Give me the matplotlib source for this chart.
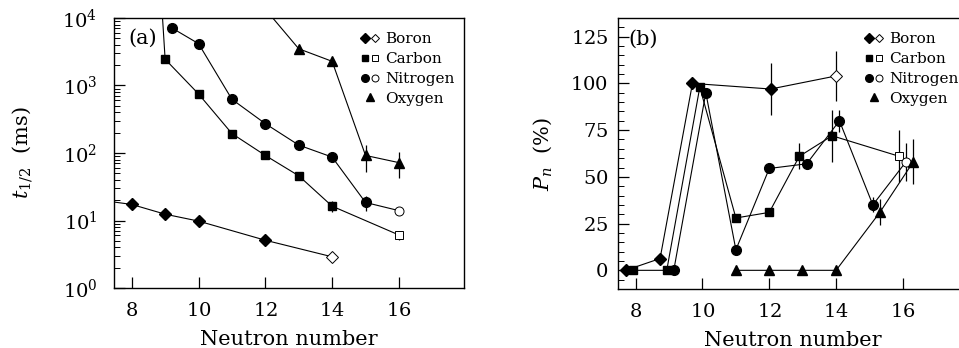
import matplotlib
matplotlib.use("Agg")
import matplotlib.pyplot as plt
from matplotlib.ticker import MultipleLocator, LogLocator, NullFormatter
from matplotlib.legend_handler import HandlerTuple
from matplotlib.lines import Line2D

plt.rcParams['font.family'] = 'DejaVu Serif'
plt.rcParams['mathtext.fontset'] = 'dejavuserif'
plt.rcParams['axes.formatter.use_mathtext'] = True

# (a) half-lives in ms vs neutron number
b_n = [7, 8, 9, 10, 12, 14]
b_t = [20.2, 17.3, 12.4, 9.8, 5.1, 2.9]
b_terr = [0, 0, 0, 0, 0, 0]

c_n = [8, 9, 10, 11, 12, 13, 14, 16]
c_t = [1.8e11, 2450, 750, 194, 92, 46, 16.3, 6.1]
c_terr = [0, 0, 0, 0, 0, 0, 3, 1]

n_n = [9.2, 10, 11, 12, 13, 14, 15, 16]
n_t = [7130, 4170, 624, 272, 131, 87, 18.5, 14]
n_terr = [0, 0, 0, 0, 0, 0, 4.5, 1.5]

o_n = [12, 13, 14, 15, 16]
o_t = [13500, 3500, 2280, 92, 72]
o_terr = [0, 0, 0, 40, 30]

# (b) neutron emission probability in %
b_pn_n = [7.7, 8.73, 9.7, 12.04, 14.0]
b_pn = [0, 6.3, 100, 97, 104]
b_pnerr = [0, 0, 0, 14, 13.5]

c_pn_n = [7.93, 8.93, 9.92, 11.0, 12.0, 12.9, 13.88, 15.89]
c_pn = [0, 0, 98, 28, 31, 61, 72, 61]
c_pnerr = [0, 0, 0, 0, 0, 7, 14, 14]

n_pn_n = [9.14, 10.1, 11.0, 12.0, 13.12, 14.1, 15.1, 16.09]
n_pn = [0, 95, 11, 54.5, 57, 80, 35, 58]
n_pnerr = [0, 0, 0, 0, 0, 6, 4, 10]

o_pn_n = [11.0, 12.0, 12.98, 14.0, 15.31, 16.31]
o_pn = [0, 0, 0, 0, 31, 58]
o_pnerr = [0, 0, 0, 0, 7, 12]

# which point of each series is drawn open (index), None if none
open_a = {'B': 5, 'C': 7, 'N': 7, 'O': None}
open_b = {'B': 4, 'C': 7, 'N': 7, 'O': None}

markers = {'B': 'D', 'C': 's', 'N': 'o', 'O': '^'}
msizes = {'B': 6.5, 'C': 6.0, 'N': 7.0, 'O': 7.5}
names = {'B': 'Boron', 'C': 'Carbon', 'N': 'Nitrogen', 'O': 'Oxygen'}


def draw_series(ax, x, y, err, key, open_idx):
    ax.plot(x, y, '-', color='k', lw=0.8, zorder=2)
    ex = [xi for xi, e in zip(x, err) if e > 0]
    ey = [yi for yi, e in zip(y, err) if e > 0]
    ee = [e for e in err if e > 0]
    if ee:
        ax.errorbar(ex, ey, yerr=ee, fmt='none', ecolor='k', elinewidth=0.9,
                    capsize=0, zorder=2)
    m = markers[key]
    ms = msizes[key]
    for i, (xi, yi) in enumerate(zip(x, y)):
        if i == open_idx:
            ax.plot(xi, yi, m, ms=ms - 0.5, mfc='white', mec='k', mew=0.7, zorder=3)
        else:
            ax.plot(xi, yi, m, ms=ms, mfc='k', mec='k', zorder=3)


def add_legend(ax):
    handles = []
    for key in ['B', 'C', 'N']:
        f = Line2D([], [], ls='none', marker=markers[key], ms=msizes[key] - 1.5,
                   mfc='k', mec='k')
        o = Line2D([], [], ls='none', marker=markers[key], ms=msizes[key] - 2,
                   mfc='white', mec='k', mew=0.7)
        handles.append((f, o))
    handles.append(Line2D([], [], ls='none', marker='^', ms=msizes['O'] - 1.5,
                          mfc='k', mec='k'))
    ax.legend(handles, [names[k] for k in ['B', 'C', 'N', 'O']],
              handler_map={tuple: HandlerTuple(ndivide=None, pad=0.1)},
              loc='upper left', bbox_to_anchor=(0.705, 0.947), frameon=False,
              fontsize=11, handlelength=1.2, handletextpad=0.4,
              labelspacing=0.38, borderaxespad=0, borderpad=0)


def style_axes(ax, ypad):
    for s in ax.spines.values():
        s.set_linewidth(1.0)
    ax.tick_params(which='both', direction='in', top=False, right=False,
                   labelsize=14)
    ax.tick_params(axis='x', pad=10)
    ax.tick_params(axis='y', pad=ypad)
    ax.tick_params(which='major', length=8, width=0.9)
    ax.tick_params(which='minor', length=4, width=0.7)
    ax.xaxis.set_major_locator(MultipleLocator(2))
    ax.set_xlim(7.47, 17.95)
    ax.set_xlabel('Neutron number', fontsize=15, labelpad=7)


fig = plt.figure(figsize=(9.59, 3.48), dpi=100)
ax1 = fig.add_axes([0.1189, 0.1724, 0.365, 0.7759])
ax2 = fig.add_axes([0.6444, 0.1695, 0.365, 0.7788])

draw_series(ax1, b_n, b_t, b_terr, 'B', open_a['B'])
draw_series(ax1, c_n, c_t, c_terr, 'C', open_a['C'])
draw_series(ax1, n_n, n_t, n_terr, 'N', open_a['N'])
draw_series(ax1, o_n, o_t, o_terr, 'O', open_a['O'])
ax1.set_yscale('log')
ax1.set_ylim(1, 1e4)
ax1.yaxis.set_major_locator(LogLocator(base=10, numticks=10))
ax1.yaxis.set_minor_locator(LogLocator(base=10, subs=range(2, 10), numticks=10))
ax1.yaxis.set_minor_formatter(NullFormatter())
style_axes(ax1, 12)
ax1.set_ylabel(r'$t_{1/2}$  (ms)', fontsize=15, labelpad=20)
ax1.text(0.04, 0.925, '(a)', transform=ax1.transAxes, fontsize=15,
         va='center', ha='left')
add_legend(ax1)

draw_series(ax2, b_pn_n, b_pn, b_pnerr, 'B', open_b['B'])
draw_series(ax2, c_pn_n, c_pn, c_pnerr, 'C', open_b['C'])
draw_series(ax2, n_pn_n, n_pn, n_pnerr, 'N', open_b['N'])
draw_series(ax2, o_pn_n, o_pn, o_pnerr, 'O', open_b['O'])
ax2.set_ylim(-10, 135)
ax2.yaxis.set_major_locator(MultipleLocator(25))
ax2.yaxis.set_minor_locator(MultipleLocator(5))
style_axes(ax2, 7)
ax2.set_ylabel(r'$P_n$  (%)', fontsize=15, labelpad=12)
ax2.text(0.03, 0.92, '(b)', transform=ax2.transAxes, fontsize=15,
         va='center', ha='left')
add_legend(ax2)

fig.savefig('out.png', dpi=100)
